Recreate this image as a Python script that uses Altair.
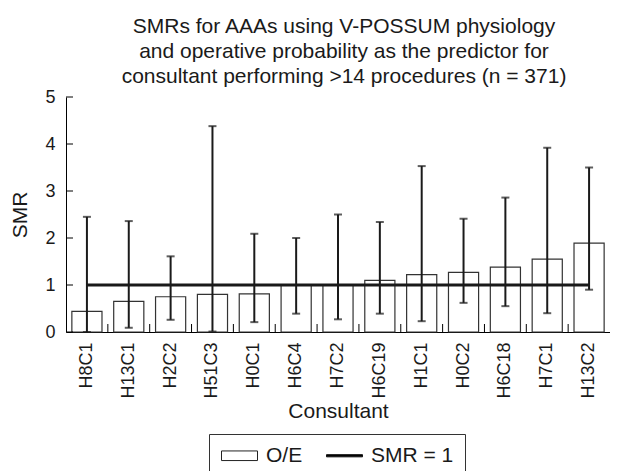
import altair as alt
import pandas as pd

consultants = ["H8C1", "H13C1", "H2C2", "H51C3", "H0C1", "H6C4", "H7C2",
               "H6C19", "H1C1", "H0C2", "H6C18", "H7C1", "H13C2"]
oe_values = [0.44, 0.65, 0.75, 0.80, 0.81, 1.00, 1.00, 1.10, 1.22, 1.27, 1.38, 1.55, 1.89]
ci_lower = [0.00, 0.09, 0.26, 0.01, 0.21, 0.39, 0.27, 0.39, 0.23, 0.62, 0.55, 0.40, 0.90]
ci_upper = [2.45, 2.36, 1.61, 4.38, 2.09, 2.00, 2.50, 2.34, 3.53, 2.41, 2.86, 3.92, 3.50]
y_ticks = [0, 1, 2, 3, 4, 5]
legend_items = ["O/E", "SMR = 1"]
title_lines = ["SMRs for AAAs using V-POSSUM physiology",
               "and operative probability as the predictor for",
               "consultant performing >14 procedures (n = 371)"]

FONT = "Liberation Sans"
INK = "#1a1a1a"
H = 235
W = 544

df = pd.DataFrame({"Consultant": consultants, "OE": oe_values,
                   "lo": ci_lower, "hi": ci_upper})
ref_df = pd.DataFrame({"start": [consultants[0]], "end": [consultants[-1]], "y": [1.0]})
leg_df = pd.DataFrame({"item": legend_items})
ytick_df = pd.DataFrame({"v": y_ticks})
xtick_df = pd.DataFrame({"Consultant": consultants[1:]})

xscale = alt.Scale(domain=consultants, paddingInner=0, paddingOuter=0)
yscale = alt.Scale(domain=[0, 5], nice=False)

x_axis = alt.Axis(title="Consultant", labelAngle=-90, ticks=False,
                  labelPadding=10, titlePadding=2, domainColor="black")
y_axis = alt.Axis(title="SMR", values=y_ticks, ticks=False,
                  labelPadding=11, titlePadding=14, grid=False, domainColor="black")

base = alt.Chart(df)

bars = base.mark_bar(fill="white", stroke="#333333", strokeWidth=1.2,
                     width=alt.RelativeBandSize(0.72)).encode(
    x=alt.X("Consultant:N", scale=xscale, axis=x_axis, sort=consultants),
    y=alt.Y("OE:Q", scale=yscale, axis=y_axis),
)

err = base.mark_rule(color=INK, strokeWidth=2).encode(
    x=alt.X("Consultant:N", sort=consultants),
    y="lo:Q", y2="hi:Q",
)
cap_hi = base.mark_tick(color=INK, orient="horizontal", size=8, thickness=2).encode(
    x=alt.X("Consultant:N", sort=consultants), y="hi:Q")
cap_lo = base.mark_tick(color=INK, orient="horizontal", size=8, thickness=2).encode(
    x=alt.X("Consultant:N", sort=consultants), y="lo:Q")

ref_line = alt.Chart(ref_df).mark_rule(color=INK, strokeWidth=3).encode(
    x=alt.X("start:N", sort=consultants),
    x2="end:N",
    y="y:Q",
)

ytick_marks = alt.Chart(ytick_df).mark_rule(color="black", strokeWidth=1).encode(
    y="v:Q", x=alt.value(0), x2=alt.value(7))
xtick_marks = alt.Chart(xtick_df).mark_rule(color="black", strokeWidth=1).encode(
    x=alt.X("Consultant:N", bandPosition=0, sort=consultants),
    y=alt.value(H), y2=alt.value(H - 8))

legend_pts = alt.Chart(leg_df).mark_point(filled=True, strokeWidth=1).encode(
    shape=alt.Shape("item:N", scale=alt.Scale(
        domain=legend_items,
        range=["M-3,-0.8H3V0.8H-3Z", "M-3,-0.18H3V0.18H-3Z"]),
        legend=alt.Legend(title=" ", titleOrient="bottom", titleFontSize=12,
                          titlePadding=6,
                          orient="none", legendX=143, legendY=337,
                          direction="horizontal", strokeColor="#333333",
                          padding=11, symbolSize=144, symbolOpacity=1,
                          symbolOffset=9, symbolStrokeWidth=1,
                          labelFont=FONT, labelFontSize=21, labelColor=INK,
                          labelOffset=16, columnPadding=21)),
    fill=alt.Fill("item:N", scale=alt.Scale(domain=legend_items, range=["white", "black"])),
    stroke=alt.Stroke("item:N", scale=alt.Scale(domain=legend_items, range=["#222222", "#111111"])),
    opacity=alt.value(0),
)

chart = alt.layer(bars, legend_pts, err, cap_hi, cap_lo, ref_line,
                  ytick_marks, xtick_marks).properties(
    width=W, height=H,
    autosize=alt.AutoSizeParams(type="none"),
    padding={"left": 58, "top": 89, "right": 0, "bottom": 139},
    title=alt.TitleParams(text=title_lines, font=FONT, fontSize=21, fontWeight="normal",
                          color=INK, lineHeight=25, anchor="middle", offset=1, dx=6),
).configure_view(strokeWidth=0).configure_axis(
    labelFont=FONT, titleFont=FONT, labelFontSize=18, titleFontSize=21,
    titleFontWeight="normal", labelColor=INK, titleColor=INK,
)

chart.save("out.html", embed_options={"renderer": "svg", "actions": False})
